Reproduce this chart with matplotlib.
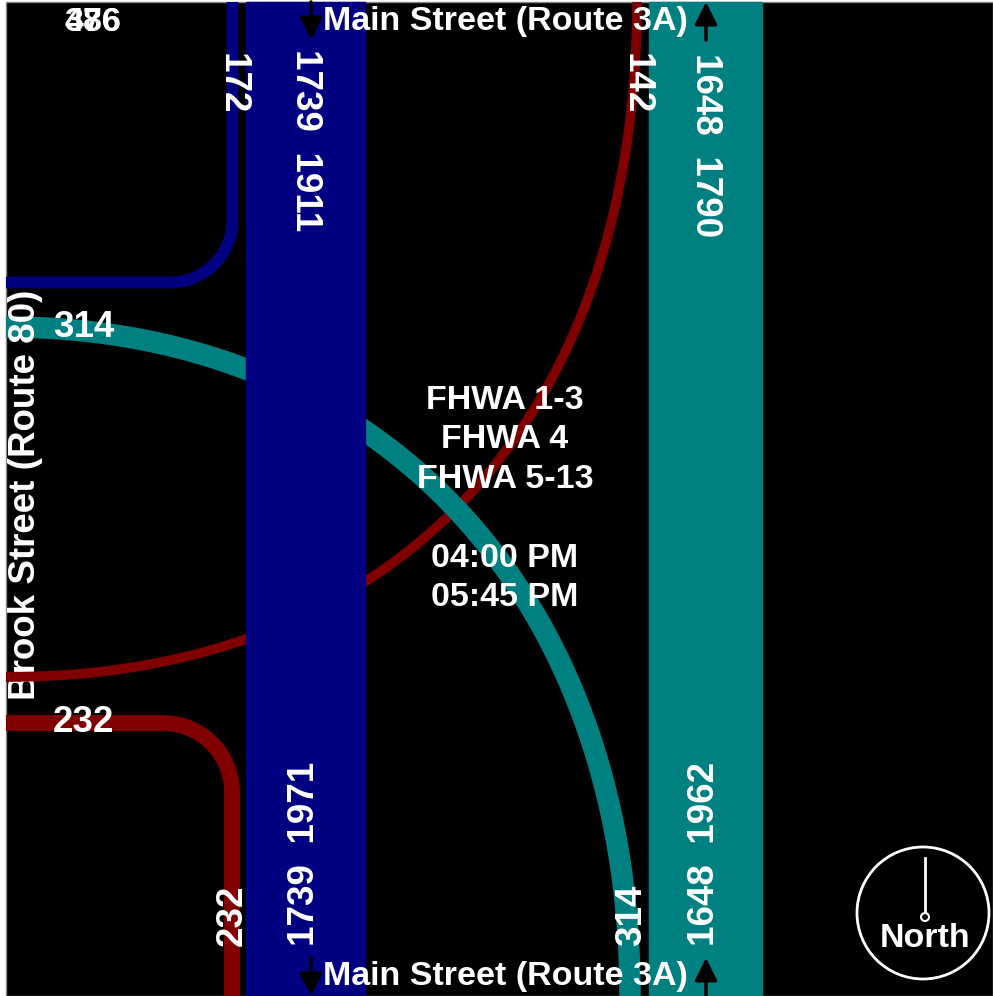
import numpy as np
import matplotlib.pyplot as plt
from matplotlib.patches import Rectangle, Circle

W, H = 993, 996
DPI = 100

# volumes
sb_labels_top = [1739, 1911]
sb_labels_bottom = [1739, 1971]
nb_labels_top = [1648, 1790]
nb_labels_bottom = [1648, 1962]
sb_right = 172      # Main St SB -> Brook St
brook_to_north = 142
nb_left = 314       # Main St NB -> Brook St
brook_to_south = 232
corner_counts = ['386', '476']
info_lines = ['FHWA 1-3', 'FHWA 4', 'FHWA 5-13', '', '04:00 PM', '05:45 PM']

BLUE = '#000080'
TEAL = '#008080'
RED = '#800000'
FONT = dict(family='Liberation Sans', weight='bold', color='white', fontsize=24.5)
NUM = dict(FONT, fontsize=26.5)

scale = 119 / sb_labels_top[0]   # px per vehicle


def lw(vol):
    return vol * scale * 72 / DPI


def bezier(p0, p1, p2, p3, n=300):
    t = np.linspace(0, 1, n)[:, None]
    p0, p1, p2, p3 = map(np.array, (p0, p1, p2, p3))
    pts = (1 - t) ** 3 * p0 + 3 * (1 - t) ** 2 * t * p1 + 3 * (1 - t) * t ** 2 * p2 + t ** 3 * p3
    return pts[:, 0], pts[:, 1]


fig = plt.figure(figsize=(W / DPI, H / DPI), dpi=DPI, facecolor='white')
ax = fig.add_axes([0, 0, 1, 1])
ax.set_xlim(0, W)
ax.set_ylim(H, 0)
ax.axis('off')

frame = Rectangle((6, 2), W - 6, H - 2, facecolor='black', edgecolor='#888888', lw=1, zorder=0)
ax.add_patch(frame)


def curve(x, y, vol, color, z, clip=frame):
    ln, = ax.plot(x, y, color=color, lw=lw(vol), solid_capstyle='butt', solid_joinstyle='round', zorder=z)
    ln.set_clip_path(clip)


# Brook St -> north (red)
bx, by = bezier((637, 0), (637, 420), (397, 677), (6, 677))
rx, ry = np.r_[637, bx, -20], np.r_[-20, by, 677]
curve(rx, ry, brook_to_north, RED, 2.7)
# its west end lies over the street name
edge = Rectangle((6, 600), 30, 120, transform=ax.transData)
curve(rx, ry, brook_to_north, RED, 3.6, clip=edge)

# NB left turn onto Brook (teal)
tx, ty = bezier((6, 327), (380, 327), (630, 595), (630, 996))
curve(np.r_[-20, tx, 630], np.r_[327, ty, 1020], nb_left, TEAL, 3)

# SB right turn (blue)
th = np.linspace(0, np.pi / 2, 60)
curve(np.r_[232.5, 170 + 62.5 * np.cos(th), -20],
      np.r_[-20, 220 + 62.5 * np.sin(th), 282.5], sb_right, BLUE, 3)

# Brook St -> south (red)
curve(np.r_[-20, 163 + 69 * np.sin(th), 232],
      np.r_[723, 792 - 69 * np.cos(th), 1020], brook_to_south, RED, 3)

# main through bands
wb = sb_labels_top[0] * scale
wt = nb_labels_top[0] * scale
ax.add_patch(Rectangle((305.5 - wb / 2, 2), wb, H, color=BLUE, zorder=4))
ax.add_patch(Rectangle((705.5 - wt / 2, 2), wt, H, color=TEAL, zorder=4))

# street names
ax.text(505, 21, 'Main Street (Route 3A)', ha='center', va='center', zorder=6, **FONT)
ax.text(505, 976, 'Main Street (Route 3A)', ha='center', va='center', zorder=6, **FONT)
ax.text(26, 495, 'Brook Street (Route 80)', rotation=90, ha='center', va='center', zorder=3.5, **NUM)

# arrows
arw = dict(arrowstyle='-|>', color='black', lw=2.5, mutation_scale=34, shrinkA=0, shrinkB=0)
ax.annotate('', xy=(311, 40), xytext=(311, 2), arrowprops=arw, zorder=7)
ax.annotate('', xy=(706, 2), xytext=(706, 40), arrowprops=arw, zorder=7)
ax.annotate('', xy=(311, 996), xytext=(311, 958), arrowprops=arw, zorder=7)
ax.annotate('', xy=(706, 958), xytext=(706, 996), arrowprops=arw, zorder=7)

# volume labels
ax.text(305, 49, f'{sb_labels_top[0]}  {sb_labels_top[1]}', rotation=-90, ha='center', va='top', zorder=6, **NUM)
ax.text(705, 53, f'{nb_labels_top[0]}  {nb_labels_top[1]}', rotation=-90, ha='center', va='top', zorder=6, **NUM)
ax.text(232, 53, f'{sb_right}', rotation=-90, ha='center', va='top', zorder=6, **NUM)
ax.text(636, 53, f'{brook_to_north}', rotation=-90, ha='center', va='top', zorder=6, **NUM)
ax.text(305, 946, f'{sb_labels_bottom[0]}  {sb_labels_bottom[1]}', rotation=90, ha='center', va='bottom', zorder=6, **NUM)
ax.text(705, 946, f'{nb_labels_bottom[0]}  {nb_labels_bottom[1]}', rotation=90, ha='center', va='bottom', zorder=6, **NUM)
ax.text(232, 946, f'{brook_to_south}', rotation=90, ha='center', va='bottom', zorder=6, **NUM)
ax.text(632, 946, f'{nb_left}', rotation=90, ha='center', va='bottom', zorder=6, **NUM)
ax.text(84, 327, f'{nb_left}', ha='center', va='center', zorder=6, **NUM)
ax.text(84, 722, f'{brook_to_south}', ha='center', va='center', zorder=6, **NUM)
for s in corner_counts:
    ax.text(93, 22, s, ha='center', va='center', zorder=6, **FONT)

# period info
for i, s in enumerate(info_lines):
    ax.text(505, 400 + i * 39.5, s, ha='center', va='center', zorder=6, **FONT)

# north arrow
ax.add_patch(Circle((923, 913), 66, facecolor='none', edgecolor='white', lw=2, zorder=6))
ax.plot([925, 925], [858, 913], color='white', lw=2, zorder=6)
ax.add_patch(Circle((925, 917), 4, facecolor='black', edgecolor='white', lw=1.5, zorder=7))
ax.text(925, 938, 'North', ha='center', va='center', zorder=6, **FONT)

fig.savefig('out.png', dpi=DPI, facecolor='white')
